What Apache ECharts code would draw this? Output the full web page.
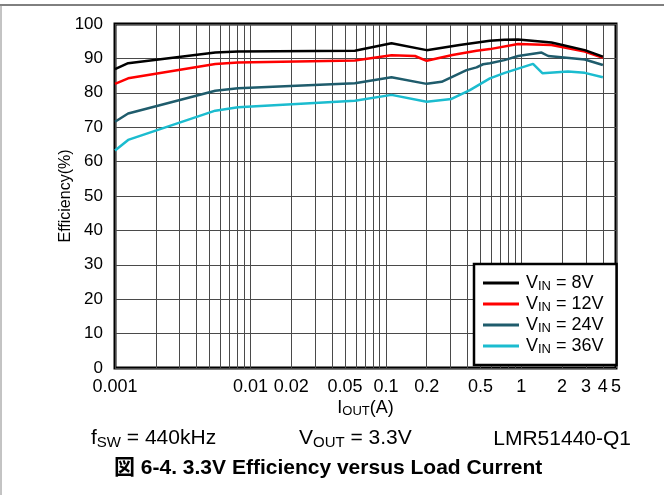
<!DOCTYPE html>
<html>
<head>
<meta charset="utf-8">
<script src="https://cdn.jsdelivr.net/npm/echarts@6/dist/echarts.min.js"></script>
<style>
html,body{margin:0;padding:0;background:#fff;}
#chart{width:664px;height:495px;}
</style>
</head>
<body>
<div id="chart"></div>
<script>
// ---- data (I_OUT in A, efficiency in %) ----
const seriesNames = ['VIN = 8V', 'VIN = 12V', 'VIN = 24V', 'VIN = 36V'];
const legendValues = ['8V', '12V', '24V', '36V'];

const current8  = [0.001, 0.00125, 0.0055, 0.0081, 0.059, 0.11, 0.2, 0.35, 0.586, 0.75, 0.947, 1.67, 2.94, 4.0];
const eff8      = [86.9, 88.6, 91.7, 92.0, 92.2, 94.4, 92.4, 93.9, 95.1, 95.4, 95.5, 94.6, 92.4, 90.5];

const current12 = [0.001, 0.00125, 0.0055, 0.0081, 0.059, 0.11, 0.164, 0.2, 0.31, 0.467, 0.586, 0.947, 1.67, 2.94, 4.0];
const eff12     = [82.6, 84.2, 88.4, 88.8, 89.4, 90.9, 90.7, 89.3, 91.0, 92.2, 92.7, 94.2, 93.9, 92.0, 90.2];

const current24 = [0.001, 0.00125, 0.0055, 0.0081, 0.059, 0.11, 0.2, 0.258, 0.394, 0.467, 0.522, 0.586, 0.75, 0.947, 1.41, 1.58, 2.94, 4.0];
const eff24     = [71.6, 74.0, 80.6, 81.3, 82.8, 84.5, 82.6, 83.2, 86.6, 87.4, 88.3, 88.6, 89.5, 90.7, 91.7, 90.7, 89.7, 88.1];

const current36 = [0.001, 0.00125, 0.0055, 0.0081, 0.059, 0.11, 0.2, 0.305, 0.417, 0.586, 0.755, 1.22, 1.43, 2.21, 2.94, 4.0];
const eff36     = [63.2, 66.3, 74.8, 75.8, 77.7, 79.4, 77.4, 78.2, 80.8, 84.2, 85.8, 88.4, 85.7, 86.2, 85.8, 84.5];

const xLabelValues = [0.001, 0.01, 0.02, 0.05, 0.1, 0.2, 0.5, 1, 2, 3, 4, 5];
const gridDecades = [0.001, 0.01, 0.1, 1];
const gridMantissas = [1, 2, 3, 4, 5, 6, 7, 8, 9];
const xMin = 0.001, xMax = 5;
const yMin = 0, yMax = 100, yStep = 10;

const colors = ['#000000', '#ff0000', '#1f5c6c', '#1bbccf'];

// ---- build ----
const lg = v => Math.log10(v);
const gridValues = [];
gridDecades.forEach(d => gridMantissas.forEach(m => {
  const v = +(d * m).toPrecision(6);
  if (v >= xMin && v <= xMax) gridValues.push(v);
}));

function pairs(xs, ys) { return xs.map((x, i) => [lg(x), ys[i]]); }
const allData = [pairs(current8, eff8), pairs(current12, eff12), pairs(current24, eff24), pairs(current36, eff36)];

const FONT = '"Liberation Sans", Arial, sans-serif';

function subRich(main, sub, lh, pad) {
  return {
    a: {fontSize: main, fontFamily: FONT, color: '#000', fill: '#000', lineHeight: lh},
    s: {fontSize: sub, fontFamily: FONT, color: '#000', fill: '#000', lineHeight: lh - pad, verticalAlign: 'bottom', padding: [pad, 0, 0, 0]}
  };
}

const chart = echarts.init(document.getElementById('chart'), null, {renderer: 'canvas'});
const option = {
  animation: false,
  backgroundColor: '#ffffff',
  grid: {
    left: 115, right: 48, top: 24, bottom: 127,
    show: true, borderColor: '#000', borderWidth: 3, backgroundColor: 'transparent'
  },
  xAxis: {
    type: 'value',
    min: lg(xMin), max: lg(xMax),
    axisLine: {show: false},
    axisTick: {show: false, customValues: gridValues.map(lg)},
    splitLine: {show: true, lineStyle: {color: '#4a4a4a', width: 1}},
    axisLabel: {
      customValues: xLabelValues.map(lg),
      margin: 10,
      color: '#000', fontFamily: FONT, fontSize: 18,
      formatter: function (v) {
        let best = xLabelValues[0], bd = 1e9;
        xLabelValues.forEach(x => { const d = Math.abs(lg(x) - v); if (d < bd) { bd = d; best = x; } });
        return String(best);
      }
    },
    name: '{a|I}{s|OUT}{a|(A)}',
    nameLocation: 'middle',
    nameGap: 30,
    nameMoveOverlap: false,
    nameTextStyle: {
      color: '#000', fontFamily: FONT,
      rich: subRich(18, 13, 20, 6)
    }
  },
  yAxis: {
    type: 'value',
    min: yMin, max: yMax, interval: yStep,
    axisLine: {show: false},
    axisTick: {show: false},
    splitLine: {show: true, lineStyle: {color: '#4a4a4a', width: 1}},
    axisLabel: {color: '#000', fontFamily: FONT, fontSize: 17, margin: 12},
    name: 'Efficiency(%)',
    nameLocation: 'middle',
    nameGap: 41,
    nameMoveOverlap: false,
    nameTextStyle: {color: '#000', fontFamily: FONT, fontSize: 16}
  },
  legend: {
    orient: 'vertical',
    left: 474, top: 264,
    padding: [10, 13, 9, 9],
    itemGap: 2,
    itemWidth: 36, itemHeight: 3,
    icon: 'rect',
    backgroundColor: '#fff',
    borderColor: '#000', borderWidth: 2.5,
    data: seriesNames,
    formatter: function (name) {
      const i = seriesNames.indexOf(name);
      return '{a|V}{s|IN}{a| = ' + legendValues[i] + '}';
    },
    textStyle: {
      fontFamily: FONT, color: '#000', padding: [0, 0, 0, 2],
      rich: subRich(18, 13, 20, 6)
    }
  },
  series: allData.map((d, i) => ({
    name: seriesNames[i],
    type: 'line',
    data: d,
    symbol: 'none',
    smooth: false,
    color: colors[i],
    lineStyle: {color: colors[i], width: 2.5},
    z: 3 + (3 - i)
  })),
  graphic: [
    {type: 'line', shape: {x1: 0, y1: 5, x2: 664, y2: 5}, style: {stroke: '#000', lineWidth: 1}},
    {type: 'line', shape: {x1: 1, y1: 5, x2: 1, y2: 495}, style: {stroke: '#888', lineWidth: 1}},
    {type: 'text', left: 91, top: 427, style: {
      text: '{a|f}{s|SW}{a| = 440kHz}', fontFamily: FONT,
      rich: subRich(21, 15, 24, 8)
    }},
    {type: 'text', left: 299, top: 427, style: {
      text: '{a|V}{s|OUT}{a| = 3.3V}', fontFamily: FONT,
      rich: subRich(21, 15, 24, 8)
    }},
    {type: 'text', right: 33, top: 429, style: {
      text: 'LMR51440-Q1', fontFamily: FONT, fontSize: 21, fill: '#000'
    }},
    {type: 'text', left: 114, top: 458, style: {
      text: '図 6-4. 3.3V Efficiency versus Load Current',
      fontFamily: '"Liberation Sans", Arial, "Noto Sans CJK JP", sans-serif',
      fontSize: 21, fontWeight: 'bold', fill: '#000'
    }}
  ]
};
chart.setOption(option);
</script>
</body>
</html>
